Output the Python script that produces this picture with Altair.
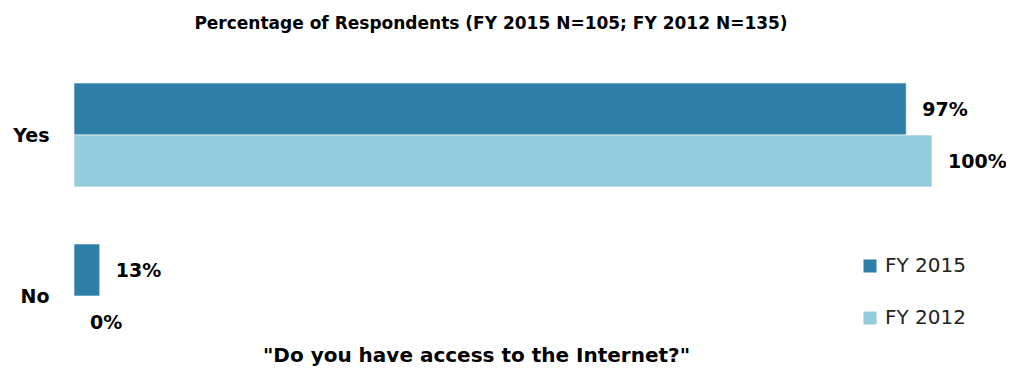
import altair as alt
import pandas as pd

# ---- data ----
answers = ["Yes", "No"]
series = ["FY 2015", "FY 2012"]
fy2015_values = [97, 3]
fy2015_labels = ["97%", "13%"]
fy2012_values = [100, 0]
fy2012_labels = ["100%", "0%"]
colors = ["#2E7FA7", "#93CDDD"]

title_text = "Percentage of Respondents (FY 2015 N=105; FY 2012 N=135)"
x_title = '"Do you have access to the Internet?"'

rows = []
for i, a in enumerate(answers):
    rows.append({"answer": a, "series": series[0], "value": fy2015_values[i], "label": fy2015_labels[i]})
    rows.append({"answer": a, "series": series[1], "value": fy2012_values[i], "label": fy2012_labels[i]})
df = pd.DataFrame(rows)

FONT = "DejaVu Sans"

y_enc = alt.Y(
    "answer:N",
    sort=answers,
    scale=alt.Scale(paddingInner=0.354, paddingOuter=0.143),
    axis=alt.Axis(
        title=None, domain=False, ticks=False, grid=False,
        labelFontSize=19, labelFontWeight="bold", labelColor="#000000",
        labelFont=FONT, labelPadding=25, labelOffset=1,
    ),
)
yoff_enc = alt.YOffset("series:N", sort=series, scale=alt.Scale(paddingInner=0, paddingOuter=0))
x_enc = alt.X(
    "value:Q",
    scale=alt.Scale(domain=[0, 100], nice=False, zero=True),
    axis=alt.Axis(
        title=x_title, domain=False, ticks=False, labels=False, grid=False,
        titleFontSize=20, titleFont=FONT, titleFontWeight="bold", titleColor="#000000",
        titleX=402, titleY=-16, titleBaseline="middle", titleAlign="center",
    ),
)

bars = alt.Chart(df).mark_bar(stroke="white", strokeWidth=0.6).encode(
    x=x_enc,
    y=y_enc,
    yOffset=yoff_enc,
    color=alt.Color(
        "series:N",
        sort=series,
        scale=alt.Scale(domain=series, range=colors),
        legend=alt.Legend(
            title=None, orient="none", legendX=786, legendY=196,
            symbolType="square", symbolSize=169, symbolStrokeWidth=0,
            labelFontSize=20, labelFont=FONT, labelColor="#222222",
            labelOffset=5, rowPadding=32, padding=0,
        ),
    ),
)

labels = alt.Chart(df).mark_text(
    align="left", baseline="middle", dx=16, dy=1,
    fontSize=19, fontWeight="bold", font=FONT, color="#000000",
).encode(
    x=alt.X("value:Q", scale=alt.Scale(domain=[0, 100], nice=False, zero=True)),
    y=alt.Y("answer:N", sort=answers),
    yOffset=alt.YOffset("series:N", sort=series),
    text="label:N",
)

chart = (
    alt.layer(bars, labels)
    .properties(
        width=858,
        height=311,
        title=alt.TitleParams(
            text=title_text, font=FONT, fontSize=17, fontWeight="bold",
            color="#000000", anchor="middle", dx=-12, offset=27,
        ),
        autosize=alt.AutoSizeParams(type="none"),
        padding={"left": 66, "top": 52, "right": 74, "bottom": 0},
        background="white",
    )
    .configure_view(stroke=None)
)

chart.save("out.html", embed_options={"renderer": "svg", "actions": False})
